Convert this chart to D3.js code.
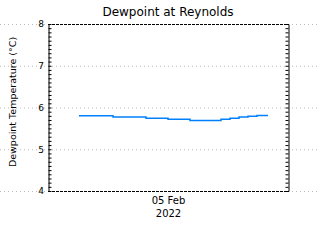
<!DOCTYPE html>
<html>
<head>
<meta charset="utf-8">
<script src="https://cdn.jsdelivr.net/npm/d3@7"></script>
<style>
body { margin: 0; background: #fff; }
text { font-family: "DejaVu Sans", sans-serif; fill: #000; }
</style>
</head>
<body>
<svg id="chart" width="320" height="240"></svg>
<script>
// 時刻 (2022-02-04 / 05) と露点
var times = ["2022-02-04T15:06", "2022-02-04T18:30", "2022-02-04T21:48", "2022-02-05T00:00",
             "2022-02-05T02:12", "2022-02-05T05:18", "2022-02-05T06:12", "2022-02-05T07:06",
             "2022-02-05T08:00", "2022-02-05T08:54", "2022-02-05T10:00"];
var dewpoint = [5.80, 5.77, 5.74, 5.72, 5.69, 5.72, 5.74, 5.77, 5.79, 5.81, 5.81];
var yTicks = [4, 5, 6, 7, 8];
var xDomain = ["2022-02-04T12:00", "2022-02-05T12:00"];
var xTick = "2022-02-05T00:00";

var parse = d3.timeParse("%Y-%m-%dT%H:%M");
var data = times.map(function(t, i){ return {t: parse(t), v: dewpoint[i]}; });

var W = 320, H = 240;
// window.top と衝突するので別名
var pLeft = 48, pRight = 288, pTop = 24, pBottom = 191;

var svg = d3.select("#chart");

var x = d3.scaleTime().domain(xDomain.map(parse)).range([pLeft, pRight]);
var y = d3.scaleLinear().domain([4, 8]).range([pBottom, pTop]);

// グリッド（全幅の点線）
svg.append("g").selectAll("line").data(yTicks).enter().append("line")
	.attr("x1", 0).attr("x2", W)
	.attr("y1", function(d){ return y(d) + 0.5; })
	.attr("y2", function(d){ return y(d) + 0.5; })
	.attr("stroke", "#bbb").attr("stroke-width", 1)
	.attr("stroke-dasharray", "1,3");

// 副目盛り 0.1 ごと
var minor = d3.range(40, 81).map(function(d){ return d / 10; });

svg.append("g").attr("transform", "translate(" + (pLeft + 0.5) + ",0)")
	.call(d3.axisRight(y).tickValues(minor).tickSize(3).tickSizeOuter(0).tickFormat(""))
	.call(function(g){ g.selectAll("path,line").attr("stroke", "#000"); });

svg.append("g").attr("transform", "translate(" + (pRight + 0.5) + ",0)")
	.call(d3.axisLeft(y).tickValues(minor).tickSize(3).tickSizeOuter(0).tickFormat(""))
	.call(function(g){ g.selectAll("path,line").attr("stroke", "#000"); });

// 数値ラベル
svg.append("g").attr("transform", "translate(" + pLeft + ",0)")
	.call(d3.axisLeft(y).tickValues(yTicks).tickSize(0).tickPadding(4).tickFormat(d3.format("d")))
	.call(function(g){
		g.select(".domain").remove();
		g.selectAll("text").style("font-size", "9px").style("font-family", "DejaVu Sans");
	});

// 上下の枠（破線）
[pTop, pBottom].forEach(function(yy){
	svg.append("line")
		.attr("x1", pLeft).attr("x2", pRight + 1)
		.attr("y1", yy + 0.5).attr("y2", yy + 0.5)
		.attr("stroke", "#000").attr("stroke-dasharray", "3,1");
});

// x 軸ラベル
var xa = svg.append("g").attr("transform", "translate(0," + pBottom + ")")
	.call(d3.axisBottom(x).tickValues([parse(xTick)]).tickSize(0).tickPadding(6)
		.tickFormat(d3.timeFormat("%d %b")));
xa.select(".domain").remove();
xa.selectAll("text").style("font-size", "10px").style("font-family", "DejaVu Sans");
xa.selectAll(".tick").append("text")
	.attr("y", 19).attr("dy", "0.71em").attr("fill", "#000")
	.style("font-size", "10px").style("font-family", "DejaVu Sans")
	.text(d3.timeFormat("%Y"));

// 線
var line = d3.line()
	.x(function(d){ return x(d.t); })
	.y(function(d){ return y(d.v); })
	.curve(d3.curveStepAfter);

svg.append("path").datum(data)
	.attr("d", line)
	.attr("fill", "none")
	.attr("stroke", "#0080ff")
	.attr("stroke-width", 1.5);

// タイトル
svg.append("text")
	.attr("x", (pLeft + pRight) / 2).attr("y", 16)
	.attr("text-anchor", "middle")
	.style("font-size", "12px")
	.text("Dewpoint at Reynolds");

svg.append("text")
	.attr("transform", "translate(16,102) rotate(-90)")
	.attr("text-anchor", "middle")
	.style("font-size", "9.5px")
	.text("Dewpoint Temperature (°C)");
</script>
</body>
</html>
